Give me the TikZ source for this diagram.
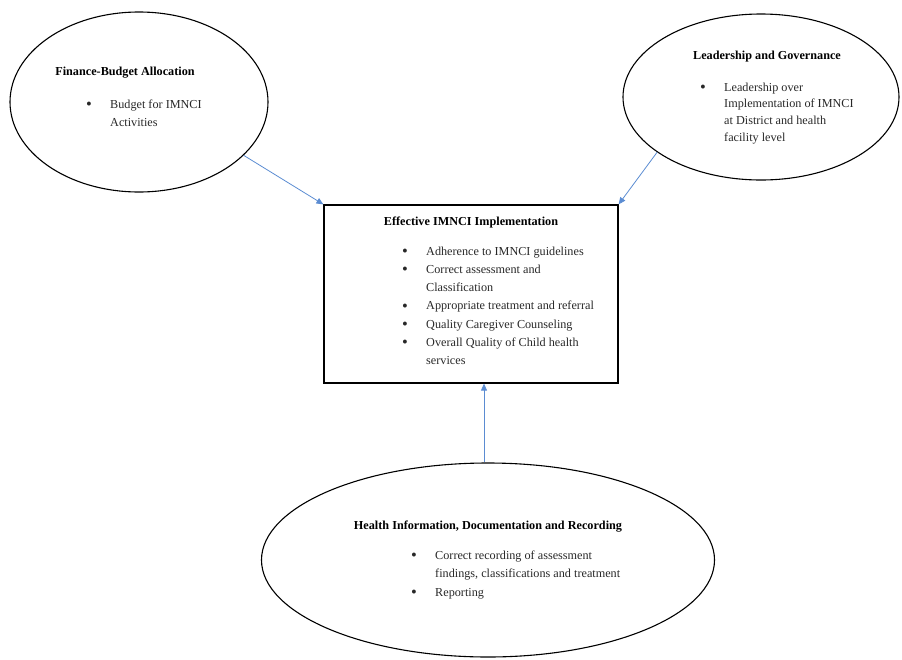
\documentclass[tikz,border=0pt]{standalone}
\usepackage{fontspec}
\setmainfont{Liberation Serif}
\usetikzlibrary{shapes.geometric,arrows.meta}
\definecolor{arrowblue}{RGB}{91,140,210}
\definecolor{bodytext}{RGB}{40,40,40}
\newcommand{\bulmark}{\raisebox{-1.2pt}{\scalebox{1.35}{\textbullet}}}
\begin{document}
\begin{tikzpicture}[x=1pt,y=-1pt,
  oval/.style={draw=black,line width=1.1pt,ellipse,inner sep=0pt},
  boxed/.style={draw=black,line width=1.2pt,rectangle,inner sep=0pt},
  ttl/.style={anchor=base,inner sep=0pt,text=black,font=\fontsize{12.2}{14}\selectfont\bfseries},
  body/.style={anchor=base west,inner sep=0pt,text=bodytext,font=\fontsize{12.2}{#1}\selectfont},
  body/.default=18.3,
  arr/.style={draw=arrowblue,line width=0.8pt,-{Triangle[length=7pt,width=6pt]}}]
\useasboundingbox (0,0) rectangle (902,659);

% shapes
\node[oval,minimum width=258pt,minimum height=180pt] (fin) at (139,102) {};
\node[oval,minimum width=276pt,minimum height=166pt] (lead) at (761,97) {};
\node[boxed,minimum width=294pt,minimum height=178pt] (box) at (471,294) {};
\node[oval,minimum width=453pt,minimum height=194pt] (hinfo) at (488,560) {};

% Finance
\node[ttl] (fint) at (125,75) {Finance-Budget Allocation};
\node[body] (finb) at (86,108) {\begin{tabular}[t]{@{}p{24pt}@{}l@{}}
\bulmark & Budget for IMNCI\\
 & Activities
\end{tabular}};

% Leadership
\node[ttl] (leadt) at (767,59) {Leadership and Governance};
\node[body=16.7] (leadb) at (700,91) {\begin{tabular}[t]{@{}p{24pt}@{}l@{}}
\bulmark & Leadership over\\
 & Implementation of IMNCI\\
 & at District and health\\
 & facility level
\end{tabular}};

% Central box
\node[ttl] (boxt) at (471,225) {Effective IMNCI Implementation};
\node[body] (boxb) at (402,255) {\begin{tabular}[t]{@{}p{24pt}@{}l@{}}
\bulmark & Adherence to IMNCI guidelines\\
\bulmark & Correct assessment and\\
 & Classification\\
\bulmark & Appropriate treatment and referral\\
\bulmark & Quality Caregiver Counseling\\
\bulmark & Overall Quality of Child health\\
 & services
\end{tabular}};

% Health information
\node[ttl] (hinfot) at (488,529) {Health Information, Documentation and Recording};
\node[body=18.5] (hinfob) at (411,559) {\begin{tabular}[t]{@{}p{24pt}@{}l@{}}
\bulmark & Correct recording of assessment\\
 & findings, classifications and treatment\\
\bulmark & Reporting
\end{tabular}};

% connectors
\draw[arr] (fin.-27) -- (box.north west);
\draw[arr] (lead.208) -- (box.north east);
\draw[arr] ([xshift=-4pt]hinfo.north) -- ([xshift=-4pt]hinfo.north |- box.south);
\end{tikzpicture}
\end{document}
